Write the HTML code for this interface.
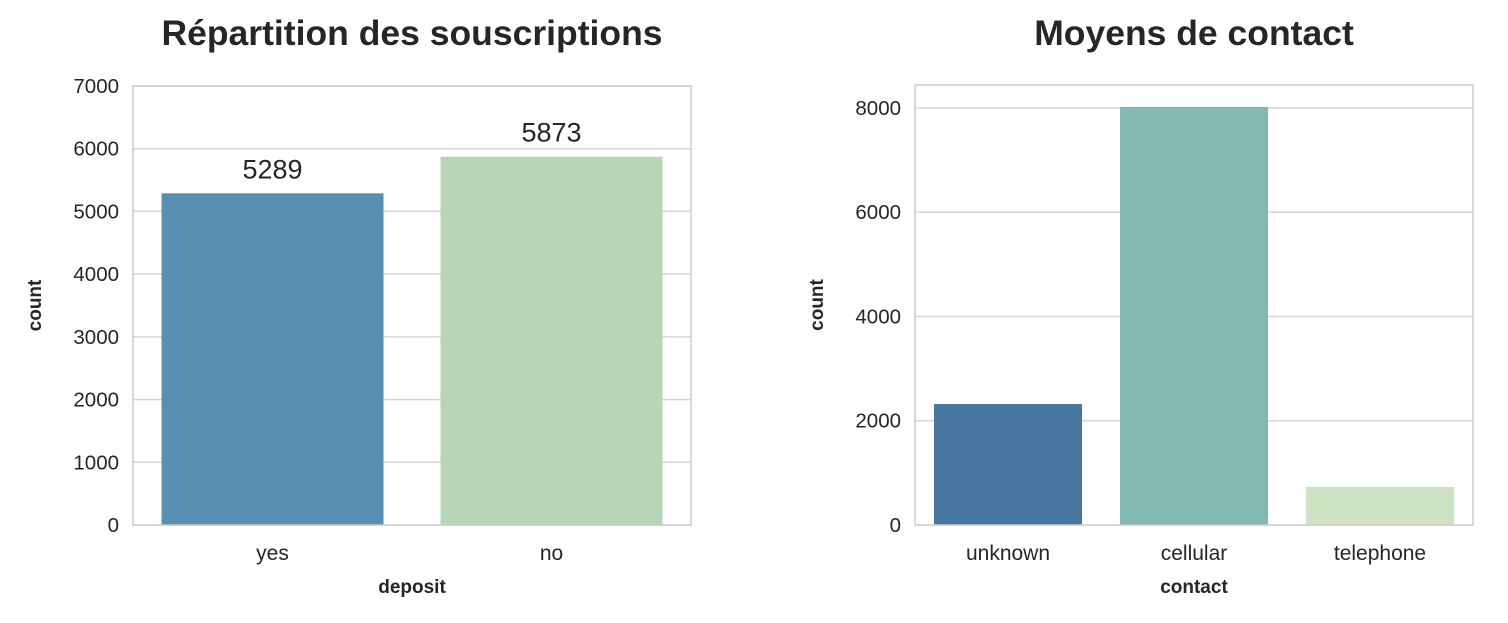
<!DOCTYPE html>
<html><head><meta charset="utf-8"><style>
body{margin:0;background:#fff;}
svg text{font-family:"Liberation Sans",Arial,sans-serif;fill:#262626;}
</style></head><body>
<svg width="1508" height="618" xmlns="http://www.w3.org/2000/svg">
<g id="c1"></g>
<g id="c2"></g>
</svg>
<script>
const cats1=["yes","no"];
const vals1=[5289,5873];
const ticks1=[0,1000,2000,3000,4000,5000,6000,7000];
const colors1=["#5a8fb4","#b6d6b5"];
const cats2=["unknown","cellular","telephone"];
const vals2=[2321,8020,729];
const ticks2=[0,2000,4000,6000,8000];
const colors2=["#4776a0","#82b7b2","#cde3c3"];
const NS="http://www.w3.org/2000/svg";
function mk(p,t,a){const e=document.createElementNS(NS,t);for(const k in a)e.setAttribute(k,a[k]);p.appendChild(e);return e;}
function chart(g,o){
 const {x0,x1,y0,y1,ymax,cats,vals,ticks,colors,title,xlabel,labels,bw}=o;
 const ys=v=>y1-(v/ymax)*(y1-y0);
 const step=(x1-x0)/cats.length;
 ticks.forEach(t=>{
  const l=mk(g,"line",{x1:x0,x2:x1,y1:ys(t),y2:ys(t),stroke:"#d5d5d5","stroke-width":1.5});
  
  
  const tx=mk(g,"text",{x:x0-14,y:ys(t)+7,"text-anchor":"end","font-size":20.5});
  tx.textContent=t;
  
  
 });
 cats.forEach((c,i)=>{
  const cx=x0+step*(i+0.5);
  const r=mk(g,"rect",{x:cx-bw/2,y:ys(vals[i]),width:bw,height:y1-ys(vals[i]),fill:colors[i]});
  
  
  const tx=mk(g,"text",{x:cx,y:y1+35,"text-anchor":"middle","font-size":21});
  tx.textContent=c;
  
  
  if(labels){
   const v=mk(g,"text",{x:cx,y:ys(vals[i])-15,"text-anchor":"middle","font-size":27});
   v.textContent=vals[i];
   
   
  }
 });
 const fr=mk(g,"rect",{x:x0,y:y0,width:x1-x0,height:y1-y0,fill:"none",stroke:"#cccccc","stroke-width":1.5});
 
 
 const t=mk(g,"text",{x:(x0+x1)/2,y:45,"text-anchor":"middle","font-size":35.5,"font-weight":"bold"});
 t.textContent=title;
 
 
 const xl=mk(g,"text",{x:(x0+x1)/2,y:593,"text-anchor":"middle","font-size":19,"font-weight":"bold"});
 xl.textContent=xlabel;
 
 
 const yl=mk(g,"text",{x:0,y:0,"text-anchor":"middle","font-size":19,"font-weight":"bold",transform:`translate(${x0-92},${(y0+y1)/2}) rotate(-90)`});
 yl.textContent="count";
 
 
}
chart(document.getElementById("c1"),{x0:133,x1:691,y0:86,y1:525,ymax:7000,cats:cats1,vals:vals1,ticks:ticks1,colors:colors1,title:"Répartition des souscriptions",xlabel:"deposit",labels:true,bw:222});
chart(document.getElementById("c2"),{x0:915,x1:1473,y0:85,y1:525,ymax:8441,cats:cats2,vals:vals2,ticks:ticks2,colors:colors2,title:"Moyens de contact",xlabel:"contact",labels:false,bw:148});
</script>
</body></html>
